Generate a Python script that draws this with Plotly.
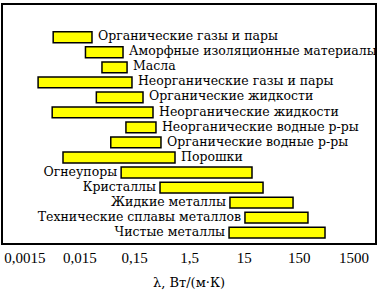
import plotly.graph_objects as go
import numpy as np

categories = [
    "Органические газы и пары",
    "Аморфные изоляционные материалы",
    "Масла",
    "Неорганические газы и пары",
    "Органические жидкости",
    "Неорганические жидкости",
    "Неорганические водные р-ры",
    "Органические водные р-ры",
    "Порошки",
    "Огнеупоры",
    "Кристаллы",
    "Жидкие металлы",
    "Технические сплавы металлов",
    "Чистые металлы",
]
lam_min = [0.0049, 0.019, 0.038, 0.0026, 0.030, 0.0047, 0.104, 0.055, 0.0074, 0.085, 0.435, 8.2, 15.4, 7.9]
lam_max = [0.025, 0.092, 0.109, 0.134, 0.213, 0.324, 0.367, 0.453, 0.816, 20.7, 32.9, 116, 217, 444]
label_side = ["right"] * 9 + ["left"] * 5
tick_vals = [0.0015, 0.015, 0.15, 1.5, 15, 150, 1500]
tick_text = ["0,0015", "0,015", "0,15", "1,5", "15", "150", "1500"]

rows = list(range(len(categories)))
FAM = "DejaVu Serif"
font = dict(family=FAM, size=12.5, color="black")

fig = go.Figure()
fig.add_trace(go.Bar(
    y=rows,
    x=[b - a for a, b in zip(lam_min, lam_max)],
    base=lam_min,
    orientation="h",
    width=0.72,
    marker=dict(color="#FFFF00", line=dict(color="black", width=1.5)),
    hoverinfo="skip",
    showlegend=False,
))

rx = [lam_max[i] * 10 ** (6 / 54.8) for i in rows if label_side[i] == "right"]
ry = [i for i in rows if label_side[i] == "right"]
rt = [categories[i] for i in rows if label_side[i] == "right"]
lx = [lam_min[i] / 10 ** (4 / 54.8) for i in rows if label_side[i] == "left"]
ly = [i for i in rows if label_side[i] == "left"]
lt = [categories[i] for i in rows if label_side[i] == "left"]

fig.add_trace(go.Scatter(x=rx, y=ry, text=rt, mode="text", textposition="middle right",
                         textfont=font, showlegend=False, hoverinfo="skip"))
fig.add_trace(go.Scatter(x=lx, y=ly, text=lt, mode="text", textposition="middle left",
                         textfont=font, showlegend=False, hoverinfo="skip"))

fig.update_layout(
    width=381, height=293,
    margin=dict(l=3, r=6, t=3, b=50),
    paper_bgcolor="white", plot_bgcolor="white",
    font=font,
    xaxis=dict(
        type="log", range=[-3.225, 3.559],
        tickvals=tick_vals, ticktext=tick_text,
        showgrid=False, zeroline=False, ticks="",
        showline=True, linecolor="black", linewidth=1.5, mirror=True,
        tickfont=dict(family="Liberation Serif", size=15),
        title=dict(text="λ, Вт/(м·К)", standoff=13,
                   font=dict(family=FAM, size=13)),
    ),
    yaxis=dict(
        range=[13.69, -2.145], showticklabels=False, showgrid=False, zeroline=False,
        ticks="", showline=True, linecolor="black", linewidth=1.5, mirror=True,
    ),
)
fig.write_html("out.html")
